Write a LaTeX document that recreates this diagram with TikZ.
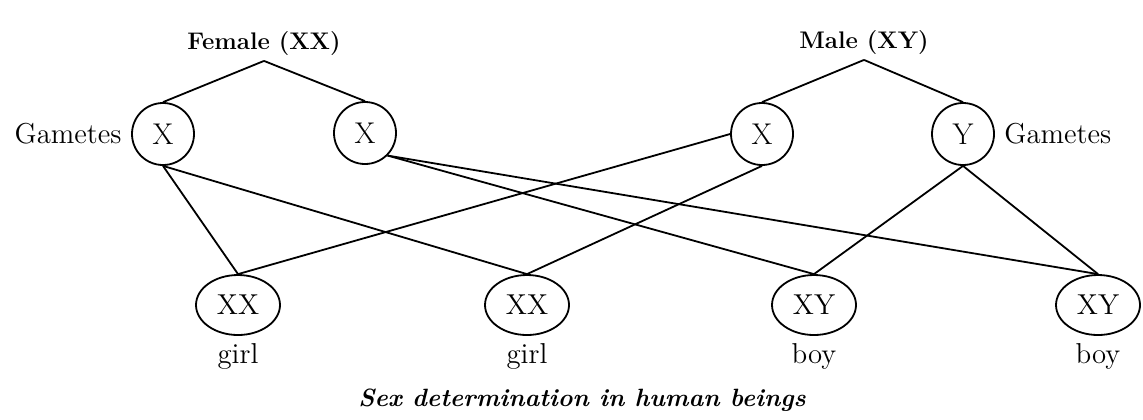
\documentclass[tikz,border=0pt]{standalone}
\usepackage{amsmath}
\usepackage{tikz}
\usetikzlibrary{shapes.geometric,positioning}

\tikzset{
    gamete/.style={circle, draw, line width=0.9pt, minimum size=31pt, inner sep=0pt, font=\fontsize{15}{18}\selectfont},
    zygote/.style={ellipse, draw, line width=0.9pt, minimum width=42pt, minimum height=30pt, inner sep=0pt, font=\fontsize{14.4}{17}\selectfont},
    parent/.style={font=\fontsize{12}{14}\selectfont\bfseries, inner sep=2pt},
    tag/.style={font=\fontsize{14.4}{17}\selectfont}
}

\begin{document}
\begin{tikzpicture}[x=0.5pt, y=-0.5pt, line width=0.9pt]
        \useasboundingbox (0,0) rectangle (1143,419);

        \node [parent] (fem) at (264,44) {Female (XX)};
        \node [parent] (mal) at (864,43) {Male (XY)};

        \node [gamete] (f1) at (163,134) {X};
        \node [gamete] (f2) at (365,133) {X};
        \node [gamete] (m1) at (762,134) {X};
        \node [gamete] (m2) at (963,134) {Y};
        \node [tag, left=1pt of f1] (gl) {Gametes};
        \node [tag, right=1pt of m2] (gr) {Gametes};

        \node [zygote] (o1) at (238,305) {XX};
        \node [zygote] (o2) at (527,305) {XX};
        \node [zygote] (o3) at (814,305) {XY};
        \node [zygote] (o4) at (1098,305) {XY};
        \node [tag, below=0pt of o1] (s1) {girl};
        \node [tag, below=0pt of o2] (s2) {girl};
        \node [tag, below=0pt of o3] (s3) {boy};
        \node [tag, below=0pt of o4] (s4) {boy};

        \node [parent, font=\fontsize{12.5}{15}\selectfont\bfseries\itshape] (cap) at (582,400) {Sex determination in human beings};

    \draw
        (fem.south) edge (f1.north)
        (fem.south) edge (f2.north)
        (mal.south) edge (m1.north)
        (mal.south) edge (m2.north)

        (f1.south) edge (o1.north)
        (f1.south) edge (o2.north)
        (f2.south east) edge (o3.north)
        (f2.south east) edge (o4.north)

        (m1.west) edge (o1.north)
        (m1.south) edge (o2.north)
        (m2.south) edge (o3.north)
        (m2.south) edge (o4.north)
        ;
    \end{tikzpicture}
\end{document}
